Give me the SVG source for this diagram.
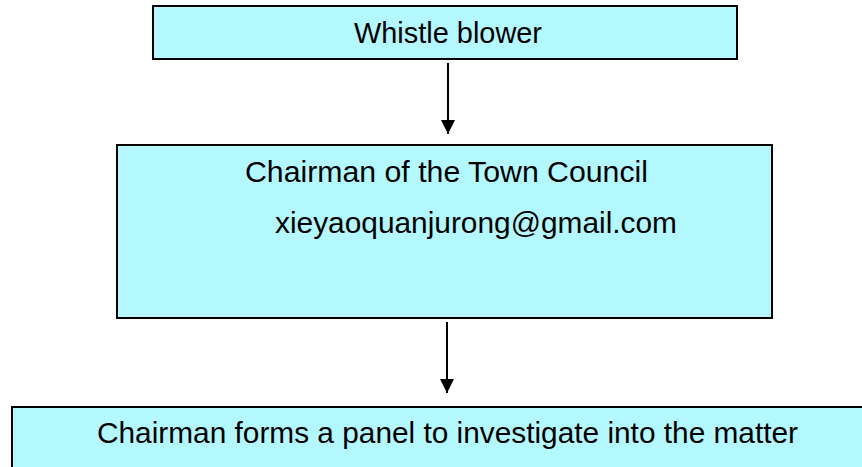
<svg xmlns="http://www.w3.org/2000/svg" width="862" height="467" viewBox="0 0 862 467">
<defs>
<style>
.box{fill:#B4F8FF;stroke:#000;stroke-width:2}
.t{font-family:"Liberation Sans",Arial,sans-serif;font-size:30px;fill:#000}
.c{stroke:#000;stroke-width:2;fill:none}
</style>
<marker id="ah" viewBox="0 0 14 16" refX="14" refY="8" markerWidth="14" markerHeight="16" markerUnits="userSpaceOnUse" orient="auto">
<path d="M0,1 L14,8 L0,15 Z" fill="#000"/>
</marker>
</defs>
<rect width="862" height="467" fill="#fff"/>
<g id="connectors">
<line class="c" x1="448" y1="63" x2="448" y2="134" marker-end="url(#ah)"/>
<line class="c" x1="447" y1="322" x2="447" y2="393" marker-end="url(#ah)"/>
</g>
<g id="whistle-blower">
<rect class="box" x="153" y="6" width="584" height="53"/>
<text class="t" x="354" y="43" textLength="188" lengthAdjust="spacingAndGlyphs">Whistle blower</text>
</g>
<g id="chairman">
<rect class="box" x="117" y="145" width="655" height="173"/>
<text class="t" x="245" y="182" textLength="403" lengthAdjust="spacingAndGlyphs">Chairman of the Town Council</text>
<text class="t" x="275" y="233" textLength="402" lengthAdjust="spacingAndGlyphs">xieyaoquanjurong@gmail.com</text>
</g>
<g id="panel">
<rect class="box" x="12" y="407" width="870" height="80"/>
<text class="t" x="97" y="443" textLength="701" lengthAdjust="spacingAndGlyphs">Chairman forms a panel to investigate into the matter</text>
</g>
</svg>
